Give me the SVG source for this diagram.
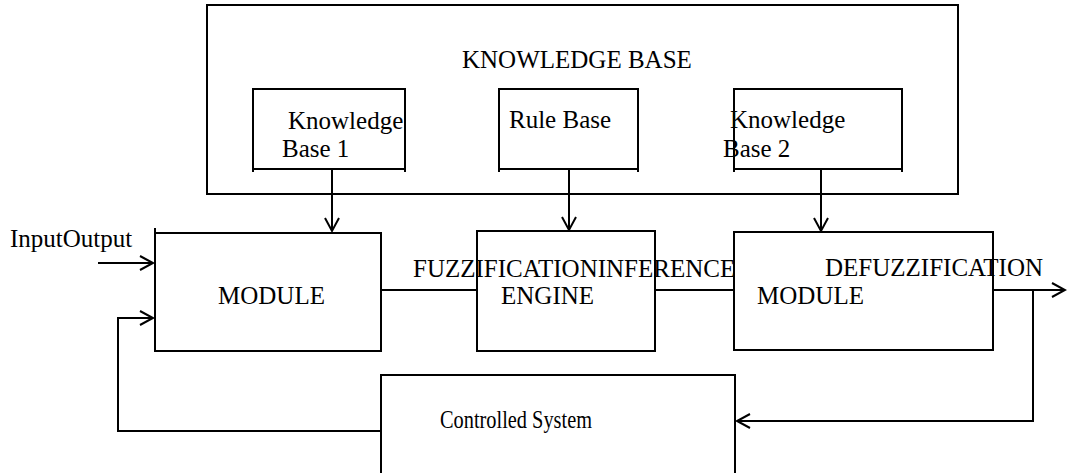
<svg xmlns="http://www.w3.org/2000/svg" width="1067" height="473" viewBox="0 0 1067 473">
  <style>
    .box { fill: none; stroke: #000; stroke-width: 2; }
    .wire { fill: none; stroke: #000; stroke-width: 2; }
    .lbl { font-family: "Liberation Serif", "Times New Roman", serif; font-size: 25px; fill: #000; }
  </style>
  <defs>
    <marker id="open-arrow" markerUnits="userSpaceOnUse" markerWidth="20" markerHeight="20" viewBox="-14 -10 16 20" refX="0" refY="0" orient="auto">
      <path d="M-13,-7 L0,0 L-13,7" fill="none" stroke="#000" stroke-width="2"/>
    </marker>
  </defs>
  <rect width="1067" height="473" fill="#fff"/>

  <!-- knowledge base container -->
  <g id="knowledge-base">
    <rect class="box" x="207" y="5" width="751" height="189"/>
    <text class="lbl" x="462" y="68">KNOWLEDGE BASE</text>
  </g>

  <g id="knowledge-base-1">
    <path class="box" d="M253,172 V89 H405 V172 M253,169 H405"/>
    <text class="lbl" x="288" y="129">Knowledge</text>
    <text class="lbl" x="282" y="157">Base 1</text>
  </g>

  <g id="rule-base">
    <path class="box" d="M499,172 V89 H638 V172 M499,169 H638"/>
    <text class="lbl" x="509" y="128">Rule Base</text>
  </g>

  <g id="knowledge-base-2">
    <path class="box" d="M734,172 V89 H902 V172 M734,169 H902"/>
    <text class="lbl" x="730" y="128">Knowledge</text>
    <text class="lbl" x="723" y="157">Base 2</text>
  </g>

  <!-- processing stages -->
  <g id="fuzzification-module">
    <path class="box" d="M155,228 V351 H381 V233 H155"/>
    <text class="lbl" x="218" y="304">MODULE</text>
  </g>

  <g id="inference-engine">
    <rect class="box" x="477" y="231" width="178" height="120"/>
    <text class="lbl" x="501" y="304">ENGINE</text>
  </g>

  <g id="defuzzification-module">
    <rect class="box" x="734" y="232" width="259" height="118"/>
    <text class="lbl" x="757" y="304">MODULE</text>
  </g>

  <g id="controlled-system">
    <path class="box" d="M381,473 V375 H735 V473"/>
    <text class="lbl" x="440" y="428" textLength="152" lengthAdjust="spacingAndGlyphs">Controlled System</text>
  </g>

  <!-- free-standing labels -->
  <g id="labels">
    <text class="lbl" x="10" y="247">InputOutput</text>
    <text class="lbl" x="413" y="277">FUZZIFICATIONINFERENCE</text>
    <text class="lbl" x="825" y="276">DEFUZZIFICATION</text>
  </g>

  <g id="connectors">
    <line class="wire" x1="332" y1="169" x2="332" y2="231" marker-end="url(#open-arrow)"/>
    <line class="wire" x1="569" y1="169" x2="569" y2="230" marker-end="url(#open-arrow)"/>
    <line class="wire" x1="821" y1="169" x2="821" y2="231" marker-end="url(#open-arrow)"/>
    <line class="wire" x1="98" y1="263" x2="153" y2="263" marker-end="url(#open-arrow)"/>
    <line class="wire" x1="381" y1="290" x2="477" y2="290"/>
    <line class="wire" x1="655" y1="290" x2="734" y2="290"/>
    <line class="wire" x1="993" y1="290" x2="1065" y2="290" marker-end="url(#open-arrow)"/>
    <polyline class="wire" points="1033,290 1033,421 737,421" marker-end="url(#open-arrow)"/>
    <polyline class="wire" points="381,431 118,431 118,318 153,318" marker-end="url(#open-arrow)"/>
  </g>
</svg>
